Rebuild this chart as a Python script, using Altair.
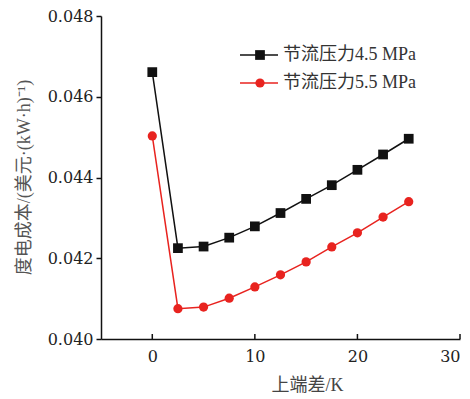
import altair as alt
import pandas as pd

x_vals = [0, 2.5, 5, 7.5, 10, 12.5, 15, 17.5, 20, 22.5, 25]
s1_vals = [0.04661, 0.04225, 0.04229, 0.04251, 0.04279, 0.04312, 0.04347, 0.04381, 0.04419, 0.04457, 0.04496]
s2_vals = [0.04503, 0.04075, 0.04079, 0.04101, 0.04129, 0.04159, 0.04191, 0.04228, 0.04263, 0.04302, 0.04340]
series_names = ["节流压力4.5 MPa", "节流压力5.5 MPa"]
x_ticks = [0, 10, 20, 30]
y_ticks = [0.040, 0.042, 0.044, 0.046, 0.048]

W, H = 359, 323
FONT = "Liberation Serif, Noto Sans CJK SC"
NUMFONT = "DejaVu Serif"

df1 = pd.DataFrame({"x": x_vals, "y": s1_vals})
df2 = pd.DataFrame({"x": x_vals, "y": s2_vals})

xs = alt.Scale(domain=[-5, 30], nice=False, zero=False)
ys = alt.Scale(domain=[0.040, 0.048], nice=False, zero=False)

xaxis = alt.Axis(values=x_ticks, tickSize=0, labelPadding=9, labelFontSize=16,
                 labelFont=NUMFONT, labelColor="#222", domainColor="#111", domainWidth=1.5,
                 grid=False, title="上端差/K", titleFont=FONT, titleFontSize=18,
                 titleFontWeight="normal", titleColor="#444", titleX=206, titleY=46,
                 titleBaseline="middle")
yaxis = alt.Axis(values=y_ticks, format=".3f", tickSize=5, tickColor="#111", tickWidth=1.5,
                 labelPadding=3, labelFontSize=16, labelFont=NUMFONT, labelColor="#222",
                 domainColor="#111", domainWidth=1.5, grid=False,
                 title="度电成本/(美元·(kW·h)⁻¹)", titleFont=FONT, titleFontSize=18,
                 titleFontWeight="normal", titleColor="#555", titleX=-77, titleY=161,
                 titleBaseline="middle", titleAlign="center", titleAngle=-90)

X = alt.X("x:Q", scale=xs, axis=xaxis)
Y = alt.Y("y:Q", scale=ys, axis=yaxis)

def series(df, color, shape, size):
    line = alt.Chart(df).mark_line(color=color, strokeWidth=1.5).encode(x=X, y=Y)
    pts = alt.Chart(df).mark_point(shape=shape, filled=True, color=color, size=size, opacity=1).encode(x=X, y=Y)
    return line + pts

black = "#111111"
red = "#e8231f"

s1 = series(df1, black, "square", 95)
s2 = series(df2, red, "circle", 85)

# x ticks drawn inward
tick_df = pd.DataFrame({"x": x_ticks})
xticks = alt.Chart(tick_df).mark_rule(color="#111", strokeWidth=1.5).encode(
    x=X, y=alt.value(H), y2=alt.value(H - 5))

# manual legend
def legend_entry(name, color, shape, size, ypix):
    d = pd.DataFrame({"name": [name]})
    ln = alt.Chart(d).mark_rule(color=color, strokeWidth=1.5).encode(
        x=alt.value(139), x2=alt.value(177), y=alt.value(ypix))
    pt = alt.Chart(d).mark_point(shape=shape, filled=True, color=color, size=size, opacity=1).encode(
        x=alt.value(159), y=alt.value(ypix))
    tx = alt.Chart(d).mark_text(align="left", baseline="middle", font=FONT, fontSize=18,
                                color="#333").encode(x=alt.value(182), y=alt.value(ypix), text="name:N")
    return ln + pt + tx

leg1 = legend_entry(series_names[0], black, "square", 95, 39)
leg2 = legend_entry(series_names[1], red, "circle", 85, 67)

chart = alt.layer(s1, s2, xticks, leg1, leg2).properties(
    width=W, height=H,
    padding={"left": 101, "top": 16, "right": 10, "bottom": 60},
    autosize=alt.AutoSizeParams(type="none"),
    background="white",
).configure_view(stroke=None)

chart.save("out.html", embed_options={"renderer": "svg", "actions": False})
